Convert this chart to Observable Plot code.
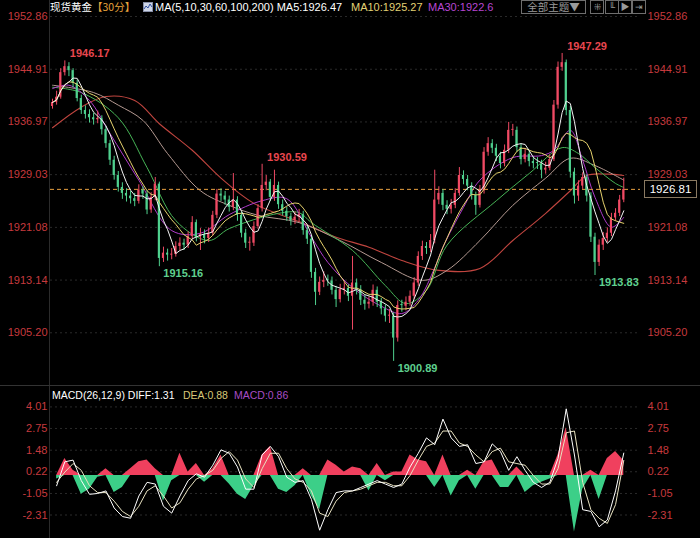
<!DOCTYPE html>
<html><head><meta charset="utf-8">
<script src="https://cdn.jsdelivr.net/npm/d3@7"></script>
<script src="https://cdn.jsdelivr.net/npm/@observablehq/plot@0.6"></script>
<style>
body{margin:0;background:#000;}
#wrap{position:relative;width:700px;height:538px;background:#000;overflow:hidden;font-family:"Liberation Sans",Arial,"Noto Sans CJK SC",sans-serif;}
#wrap svg{position:absolute;left:0;}
.t{position:absolute;white-space:nowrap;font-size:11px;line-height:14px;}
.cn{font-family:"Noto Sans CJK SC","Liberation Sans",sans-serif;}
.btn{position:absolute;top:0;height:12px;border:1px solid #6e6e6e;color:#9a9a9a;font-size:10.5px;line-height:12px;text-align:center;}
</style></head><body><div id="wrap"></div>
<script>
// ---- price data (30-min candles) ----
const firstOpen = 1939.3;
const closes = [1939.9,1940.7,1944.4,1945.3,1944.7,1942.8,1940.5,1938.7,1938.1,1937.6,
 1937.3,1937.5,1935.8,1933.7,1931.2,1928.9,1927.1,1926.2,1925.8,1925.4,
 1925.0,1926.7,1926.1,1923.7,1925.6,1927.6,1916.4,1917.2,1916.9,1917.0,
 1918.2,1918.7,1918.4,1919.7,1921.8,1919.6,1920.0,1919.4,1920.2,1922.9,
 1926.1,1925.8,1925.2,1924.1,1925.2,1922.9,1920.2,1918.7,1918.7,1921.2,
 1923.9,1927.4,1927.9,1925.6,1927.4,1924.5,1923.5,1922.7,1922.1,1922.6,
 1923.0,1920.6,1919.3,1914.3,1911.3,1912.8,1913.1,1913.0,1911.6,1910.2,
 1911.7,1911.9,1910.7,1912.7,1911.7,1910.1,1909.5,1909.8,1911.6,1909.8,
 1908.8,1907.7,1907.7,1904.4,1909.3,1909.2,1909.8,1910.7,1912.7,1916.7,
 1918.2,1917.9,1919.1,1925.2,1926.2,1924.4,1923.8,1924.4,1926.2,1928.9,
 1928.3,1927.3,1925.9,1924.4,1926.6,1932.4,1933.7,1933.0,1931.8,1930.7,
 1932.7,1935.7,1935.7,1933.1,1931.3,1932.1,1931.0,1930.7,1930.6,1929.7,
 1930.0,1931.3,1939.5,1945.2,1945.9,1938.7,1929.4,1925.8,1927.3,1928.6,
 1925.8,1919.6,1915.8,1918.4,1919.4,1920.2,1922.5,1923.2,1925.2,1926.81];
const highs = [1940.4,1941.6,1945.0,1946.17,1945.9,1945.0,1943.3,1941.0,1939.4,1938.8,
 1938.3,1938.6,1937.9,1936.3,1934.2,1931.8,1929.5,1927.8,1926.9,1926.5,
 1926.2,1927.5,1927.2,1926.6,1926.3,1928.6,1927.9,1918.1,1917.8,1917.9,
 1918.9,1919.5,1919.3,1920.4,1922.7,1922.2,1920.9,1920.7,1921.0,1923.5,
 1926.8,1926.9,1926.5,1925.8,1929.2,1925.7,1923.4,1920.8,1919.6,1921.9,
 1924.5,1930.59,1928.9,1928.3,1929.7,1927.9,1925.2,1924.1,1923.2,1923.4,
 1923.8,1923.5,1921.3,1919.8,1914.9,1913.6,1914.4,1913.9,1913.6,1912.2,
 1912.5,1912.9,1912.4,1916.7,1913.3,1912.3,1910.8,1910.6,1912.4,1912.1,
 1910.4,1909.4,1908.7,1908.2,1910.0,1910.1,1910.6,1911.5,1913.5,1917.4,
 1919.0,1918.8,1920.0,1929.7,1927.2,1926.8,1925.1,1925.3,1926.9,1930.1,
 1929.6,1928.9,1927.8,1926.4,1927.4,1933.1,1934.6,1934.3,1933.6,1932.4,
 1933.5,1936.9,1936.6,1936.2,1933.7,1932.9,1932.7,1931.7,1931.6,1931.2,
 1930.9,1932.0,1940.2,1946.0,1947.29,1946.3,1939.3,1930.0,1928.1,1929.3,
 1929.0,1926.3,1920.2,1919.2,1920.3,1921.0,1923.2,1923.9,1925.9,1928.5];
const lows = [1938.9,1939.5,1940.4,1943.9,1943.8,1942.1,1940.0,1938.1,1937.4,1936.8,
 1936.5,1936.7,1935.0,1933.0,1930.4,1928.2,1926.4,1925.3,1924.9,1924.6,
 1924.2,1924.6,1925.3,1923.0,1923.2,1925.1,1915.16,1915.8,1916.0,1916.2,
 1916.6,1917.6,1917.6,1917.9,1919.2,1918.9,1917.6,1918.6,1918.8,1919.8,
 1922.4,1925.0,1924.4,1923.4,1923.6,1922.0,1919.5,1917.9,1917.5,1918.2,
 1920.8,1923.4,1926.6,1925.0,1925.0,1923.8,1922.8,1922.0,1921.3,1921.5,
 1921.9,1919.9,1918.5,1913.4,1909.3,1910.8,1912.0,1912.2,1910.9,1909.0,
 1909.7,1910.9,1909.9,1905.6,1910.9,1909.3,1908.6,1908.8,1909.2,1909.0,
 1907.9,1906.8,1906.6,1900.89,1903.8,1908.3,1908.5,1909.2,1910.2,1912.2,
 1916.1,1917.0,1917.3,1918.6,1924.5,1923.6,1923.0,1923.1,1923.9,1925.8,
 1927.5,1926.6,1925.2,1922.9,1924.0,1926.1,1931.8,1932.2,1931.0,1929.9,
 1930.2,1932.2,1934.8,1932.4,1930.5,1930.8,1930.2,1929.9,1929.8,1928.4,
 1929.1,1929.6,1931.0,1938.9,1944.6,1937.9,1928.5,1924.6,1925.0,1926.8,
 1924.9,1918.8,1913.83,1915.2,1917.6,1918.8,1919.7,1922.0,1922.7,1924.8];

// ---- long moving averages, read at sample candles ----
const ma30Idx = [0,4,9,14,21,29,36,43,51,57,63,67,73,80,85,89,93,95,100,104,112,119,122,126,129,132,136,139];
const ma30Val = [1942.0,1942.5,1940.2,1935.2,1928.2,1920.6,1920.2,1923.0,1925.1,1925.4,1919.6,1915.8,1912.0,1909.2,1908.1,1910.1,1915.0,1918.1,1924.1,1928.2,1931.6,1931.9,1932.7,1935.7,1931.2,1925.6,1921.1,1922.6];
const ma60Idx = [0,7,16,23,30,38,43,55,60,63,73,81,86,91,96,108,116,124,128,132,137,139];
const ma60Val = [1942.2,1941.4,1937.6,1930.1,1922.1,1919.1,1920.9,1923.2,1923.3,1921.8,1917.6,1912.3,1909.6,1911.6,1918.4,1925.1,1929.2,1933.1,1932.2,1930.1,1927.7,1927.1];
const ma100Idx = [0,10,16,22,28,36,43,50,60,70,80,90,96,104,112,120,126,132,139];
const ma100Val = [1942.5,1941.4,1939.5,1937.2,1932.2,1926.6,1924.4,1922.9,1921.8,1919.1,1915.8,1913.1,1914.6,1919.1,1924.4,1928.5,1931.5,1930.4,1928.2];
const ma200Idx = [0,7,13,20,26,34,41,49,61,69,77,85,94,104,112,120,126,130,135,139];
const ma200Val = [1936.1,1939.2,1940.8,1940.2,1936.7,1932.7,1928.5,1924.7,1921.7,1919.6,1918.1,1916.1,1914.6,1914.9,1919.1,1923.2,1926.6,1928.9,1929.1,1928.9];

// ---- extremes ----
const highMarkIdx = [3,51,124];
const highMarkVal = [1946.17,1930.59,1947.29];
const lowMarkIdx = [26,83,132];
const lowMarkVal = [1915.16,1900.89,1913.83];

// ---- axis tick labels ----
const priceTicks = [1952.86,1944.91,1936.97,1929.03,1921.08,1913.14,1905.20];
const macdTicks = [4.01,2.75,1.48,0.22,-1.05,-2.31];

// ---- MACD (sampled every second candle, candles 1,3,...,139) ----
const macdHist = [-0.2,1.0,0.3,-1.1,-0.8,-0.1,0.4,-1.0,-0.7,0.4,
 0.8,0.9,0.4,-1.5,-0.3,1.3,0.2,0.7,-0.4,0.4,
 1.2,-0.5,-1.1,-1.4,-0.6,1.2,1.7,-0.8,-1.0,-0.6,
 0.4,-1.2,-2.0,0.9,0.6,0.2,0.5,0.4,-0.9,0.7,
 -0.3,0.2,0.2,1.2,0.9,0.8,-0.7,1.2,-1.2,-0.3,
 0.3,-0.8,0.8,0.9,-0.7,-0.7,0.5,-1.0,-0.6,-0.4,
 -0.2,1.2,2.8,-3.3,-0.8,0.3,-1.4,1.0,1.4,0.86];
const macdDiff = [-0.6,0.8,0.9,-0.3,-1.1,-1.05,-0.9,-1.9,-2.4,-2.5,
 -1.2,-0.4,-0.5,-1.8,-2.2,-1.2,-0.3,0.1,-0.1,0.6,
 1.5,1.3,0.5,-0.8,-0.8,1.2,1.7,1.1,-0.1,-0.4,
 -0.3,-1.4,-3.2,-2.0,-1.0,-0.9,-0.9,-0.7,-0.5,-0.3,
 -0.5,-0.7,-0.5,0.5,1.3,2.2,1.8,3.3,2.2,1.7,
 1.8,0.7,0.8,1.85,1.4,0.3,1.1,0.3,-0.4,-0.7,
 -0.4,1.0,3.9,1.2,-2.0,-2.1,-3.0,-2.6,-0.9,1.31];
const macdDea = [-0.4,0.2,0.7,0.3,-0.6,-1.0,-1.0,-1.5,-2.1,-2.4,
 -1.8,-0.9,-0.6,-1.2,-1.9,-1.6,-0.8,-0.2,0.0,0.3,
 1.0,1.4,0.9,-0.2,-0.7,0.4,1.3,1.3,0.4,-0.2,
 -0.4,-0.9,-2.2,-2.4,-1.5,-1.0,-0.9,-0.8,-0.6,-0.4,
 -0.4,-0.6,-0.6,0.0,0.9,1.7,1.9,2.6,2.6,1.9,
 1.7,1.2,0.8,1.4,1.6,0.8,0.7,0.6,0.0,-0.5,
 -0.5,0.4,2.5,2.6,-0.4,-2.0,-2.5,-2.8,-1.7,0.88];

// ---- build tables ----
const candles = closes.map((c,i)=>({i, o: i===0?firstOpen:closes[i-1], c, h: highs[i], l: lows[i]}));
candles.forEach(d=>{d.up = d.c >= d.o; d.b2 = Math.abs(d.c-d.o) < 0.12 ? d.o + 0.15 : d.c;});
const maN = n => closes.map((_,i)=>({i, v: d3.mean(closes.slice(Math.max(0,i-n+1), i+1))}));
const pts = (idx,val) => idx.map((i,k)=>({i, v: val[k]}));
const macd = macdHist.map((h,j)=>({i: 2*j+1, h, diff: macdDiff[j], dea: macdDea[j]}));
const highMarks = pts(highMarkIdx, highMarkVal);
const lowMarks = pts(lowMarkIdx, lowMarkVal);
const lastClose = closes[closes.length-1];

const UP = "#f04a64", DOWN = "#4fd08e", AXC = "#c63a3e";
const xDom = [-0.49, 143.07];
const font = "Liberation Sans, Arial, sans-serif";

const priceChart = Plot.plot({
  width: 700, height: 386, marginLeft: 50, marginRight: 60, marginTop: 0, marginBottom: 0,
  style: {background: "transparent", color: AXC, fontSize: "11px", fontFamily: font},
  x: {domain: xDom, axis: null},
  y: {domain: [1897.103, 1955.271], axis: null},
  marks: [
    Plot.gridY(priceTicks, {stroke: "#2a2a2a", strokeOpacity: 1, strokeDasharray: "2,3"}),
    Plot.axisY(priceTicks, {anchor: "left", tickSize: 0, tickPadding: 3, tickFormat: d => d.toFixed(2), color: AXC}),
    Plot.axisY(priceTicks, {anchor: "right", tickSize: 0, tickPadding: 7, tickFormat: d => d.toFixed(2), color: AXC}),
    Plot.line(pts(ma200Idx, ma200Val), {x: "i", y: "v", stroke: "#c0453f", strokeWidth: 1.1, curve: "catmull-rom"}),
    Plot.line(pts(ma100Idx, ma100Val), {x: "i", y: "v", stroke: "#b59a92", strokeWidth: 1, curve: "catmull-rom"}),
    Plot.line(pts(ma60Idx, ma60Val), {x: "i", y: "v", stroke: "#46b456", strokeWidth: 1, curve: "catmull-rom"}),
    Plot.line(pts(ma30Idx, ma30Val), {x: "i", y: "v", stroke: "#b03ccc", strokeWidth: 1, curve: "catmull-rom"}),
    Plot.ruleY([lastClose], {stroke: "#e8a040", strokeDasharray: "4,3", strokeWidth: 1}),
    Plot.ruleX(candles, {x: "i", y1: "l", y2: "h", stroke: d => d.up ? UP : DOWN, strokeWidth: 1}),
    Plot.rect(candles, {x1: d => d.i - 0.26, x2: d => d.i + 0.26, y1: "o", y2: "b2", fill: d => d.up ? UP : DOWN}),
    Plot.line(maN(10), {x: "i", y: "v", stroke: "#e6d26e", strokeWidth: 1}),
    Plot.line(maN(5), {x: "i", y: "v", stroke: "#f4f4f4", strokeWidth: 1}),
    Plot.dot(highMarks, {x: "i", y: "v", symbol: "plus", r: 3, fill: "#fff", stroke: "none"}),
    Plot.dot(lowMarks, {x: "i", y: "v", symbol: "plus", r: 3, fill: "#fff", stroke: "none"}),
    Plot.text(highMarks, {x: "i", y: "v", text: d => d.v.toFixed(2), textAnchor: "start", dx: 5, dy: -7, fill: "#e8474f", fontWeight: "bold", fontSize: 11}),
    Plot.text(lowMarks, {x: "i", y: "v", text: d => d.v.toFixed(2), textAnchor: "start", dx: 4, dy: 7, fill: "#5fd08f", fontWeight: "bold", fontSize: 11})
  ]
});
priceChart.style.top = "0px";

const macdChart = Plot.plot({
  width: 700, height: 152, marginLeft: 50, marginRight: 60, marginTop: 0, marginBottom: 0,
  style: {background: "transparent", color: AXC, fontSize: "11px", fontFamily: font},
  x: {domain: xDom, axis: null},
  y: {domain: [-3.684, 5.205], axis: null},
  marks: [
    Plot.gridY(macdTicks, {stroke: "#2a2a2a", strokeOpacity: 1, strokeDasharray: "2,3"}),
    Plot.axisY(macdTicks, {anchor: "left", tickSize: 0, tickPadding: 3, tickFormat: d => d.toFixed(2), color: AXC}),
    Plot.axisY(macdTicks, {anchor: "right", tickSize: 0, tickPadding: 7, tickFormat: d => d.toFixed(2), color: AXC}),
    Plot.areaY(macd, {x: "i", y1: 0, y2: d => Math.max(0, d.h), fill: "#f0405e"}),
    Plot.areaY(macd, {x: "i", y1: 0, y2: d => Math.min(0, d.h), fill: "#3ccf88"}),
    Plot.line(macd, {x: "i", y: "dea", stroke: "#e8e2c0", strokeWidth: 1}),
    Plot.line(macd, {x: "i", y: "diff", stroke: "#ffffff", strokeWidth: 1})
  ]
});
macdChart.style.top = "386px";

const wrap = document.getElementById("wrap");
wrap.append(priceChart, macdChart);

const yPrice = priceChart.scale("y").apply(lastClose);
const html = `
<div style="position:absolute;left:49px;top:0;width:1px;height:538px;background:#2b2b2b"></div>
<div style="position:absolute;left:0;top:385px;width:700px;height:1px;background:#333"></div>
<div class="t cn" style="left:50px;top:0px;color:#fff;font-size:10.5px">现货黄金<span style="color:#e8a33c">【30分】</span></div>
<svg style="position:absolute;left:143px;top:2px" width="10" height="10"><rect x="0.5" y="0.5" width="9" height="9" fill="#cfd6e8" stroke="#8890a8"/><polyline points="1,7 3,4 5,6 7,2 9,5" fill="none" stroke="#3050a0" stroke-width="1"/></svg>
<div class="t" style="left:155px;top:0px;color:#fff">MA(5,10,30,60,100,200) MA5:1926.47</div>
<div class="t" style="left:351px;top:0px;color:#e3d274">MA10:1925.27</div>
<div class="t" style="left:428px;top:0px;color:#b746d2">MA30:1922.6</div>
<div class="btn cn" style="left:521px;width:63px">全部主题▼</div>
<div class="btn" style="left:590px;width:12px;font-size:9px">⁜</div>
<div class="btn" style="left:605px;width:12px;font-size:9px">╙</div>
<div class="btn" style="left:618px;width:12px;font-size:9px">▶</div>
<div class="btn" style="left:632px;width:12px;font-size:9px">⇥</div>
<div class="t" style="left:644px;top:${yPrice-9}px;width:51px;height:16px;border:1px solid #8a7a62;background:#000;color:#fff;text-align:center;line-height:16px;font-size:11.5px">${lastClose.toFixed(2)}</div>
<div class="t" style="left:52px;top:388px;color:#fff;font-size:10.5px">MACD(26,12,9) DIFF:${macdDiff[macdDiff.length-1].toFixed(2)}</div>
<div class="t" style="left:183px;top:388px;color:#d8c878;font-size:10.5px">DEA:${macdDea[macdDea.length-1].toFixed(2)}</div>
<div class="t" style="left:234px;top:388px;color:#a84cc4;font-size:10.5px">MACD:${macdHist[macdHist.length-1].toFixed(2)}</div>
`;
wrap.insertAdjacentHTML("beforeend", html);
</script></body></html>
